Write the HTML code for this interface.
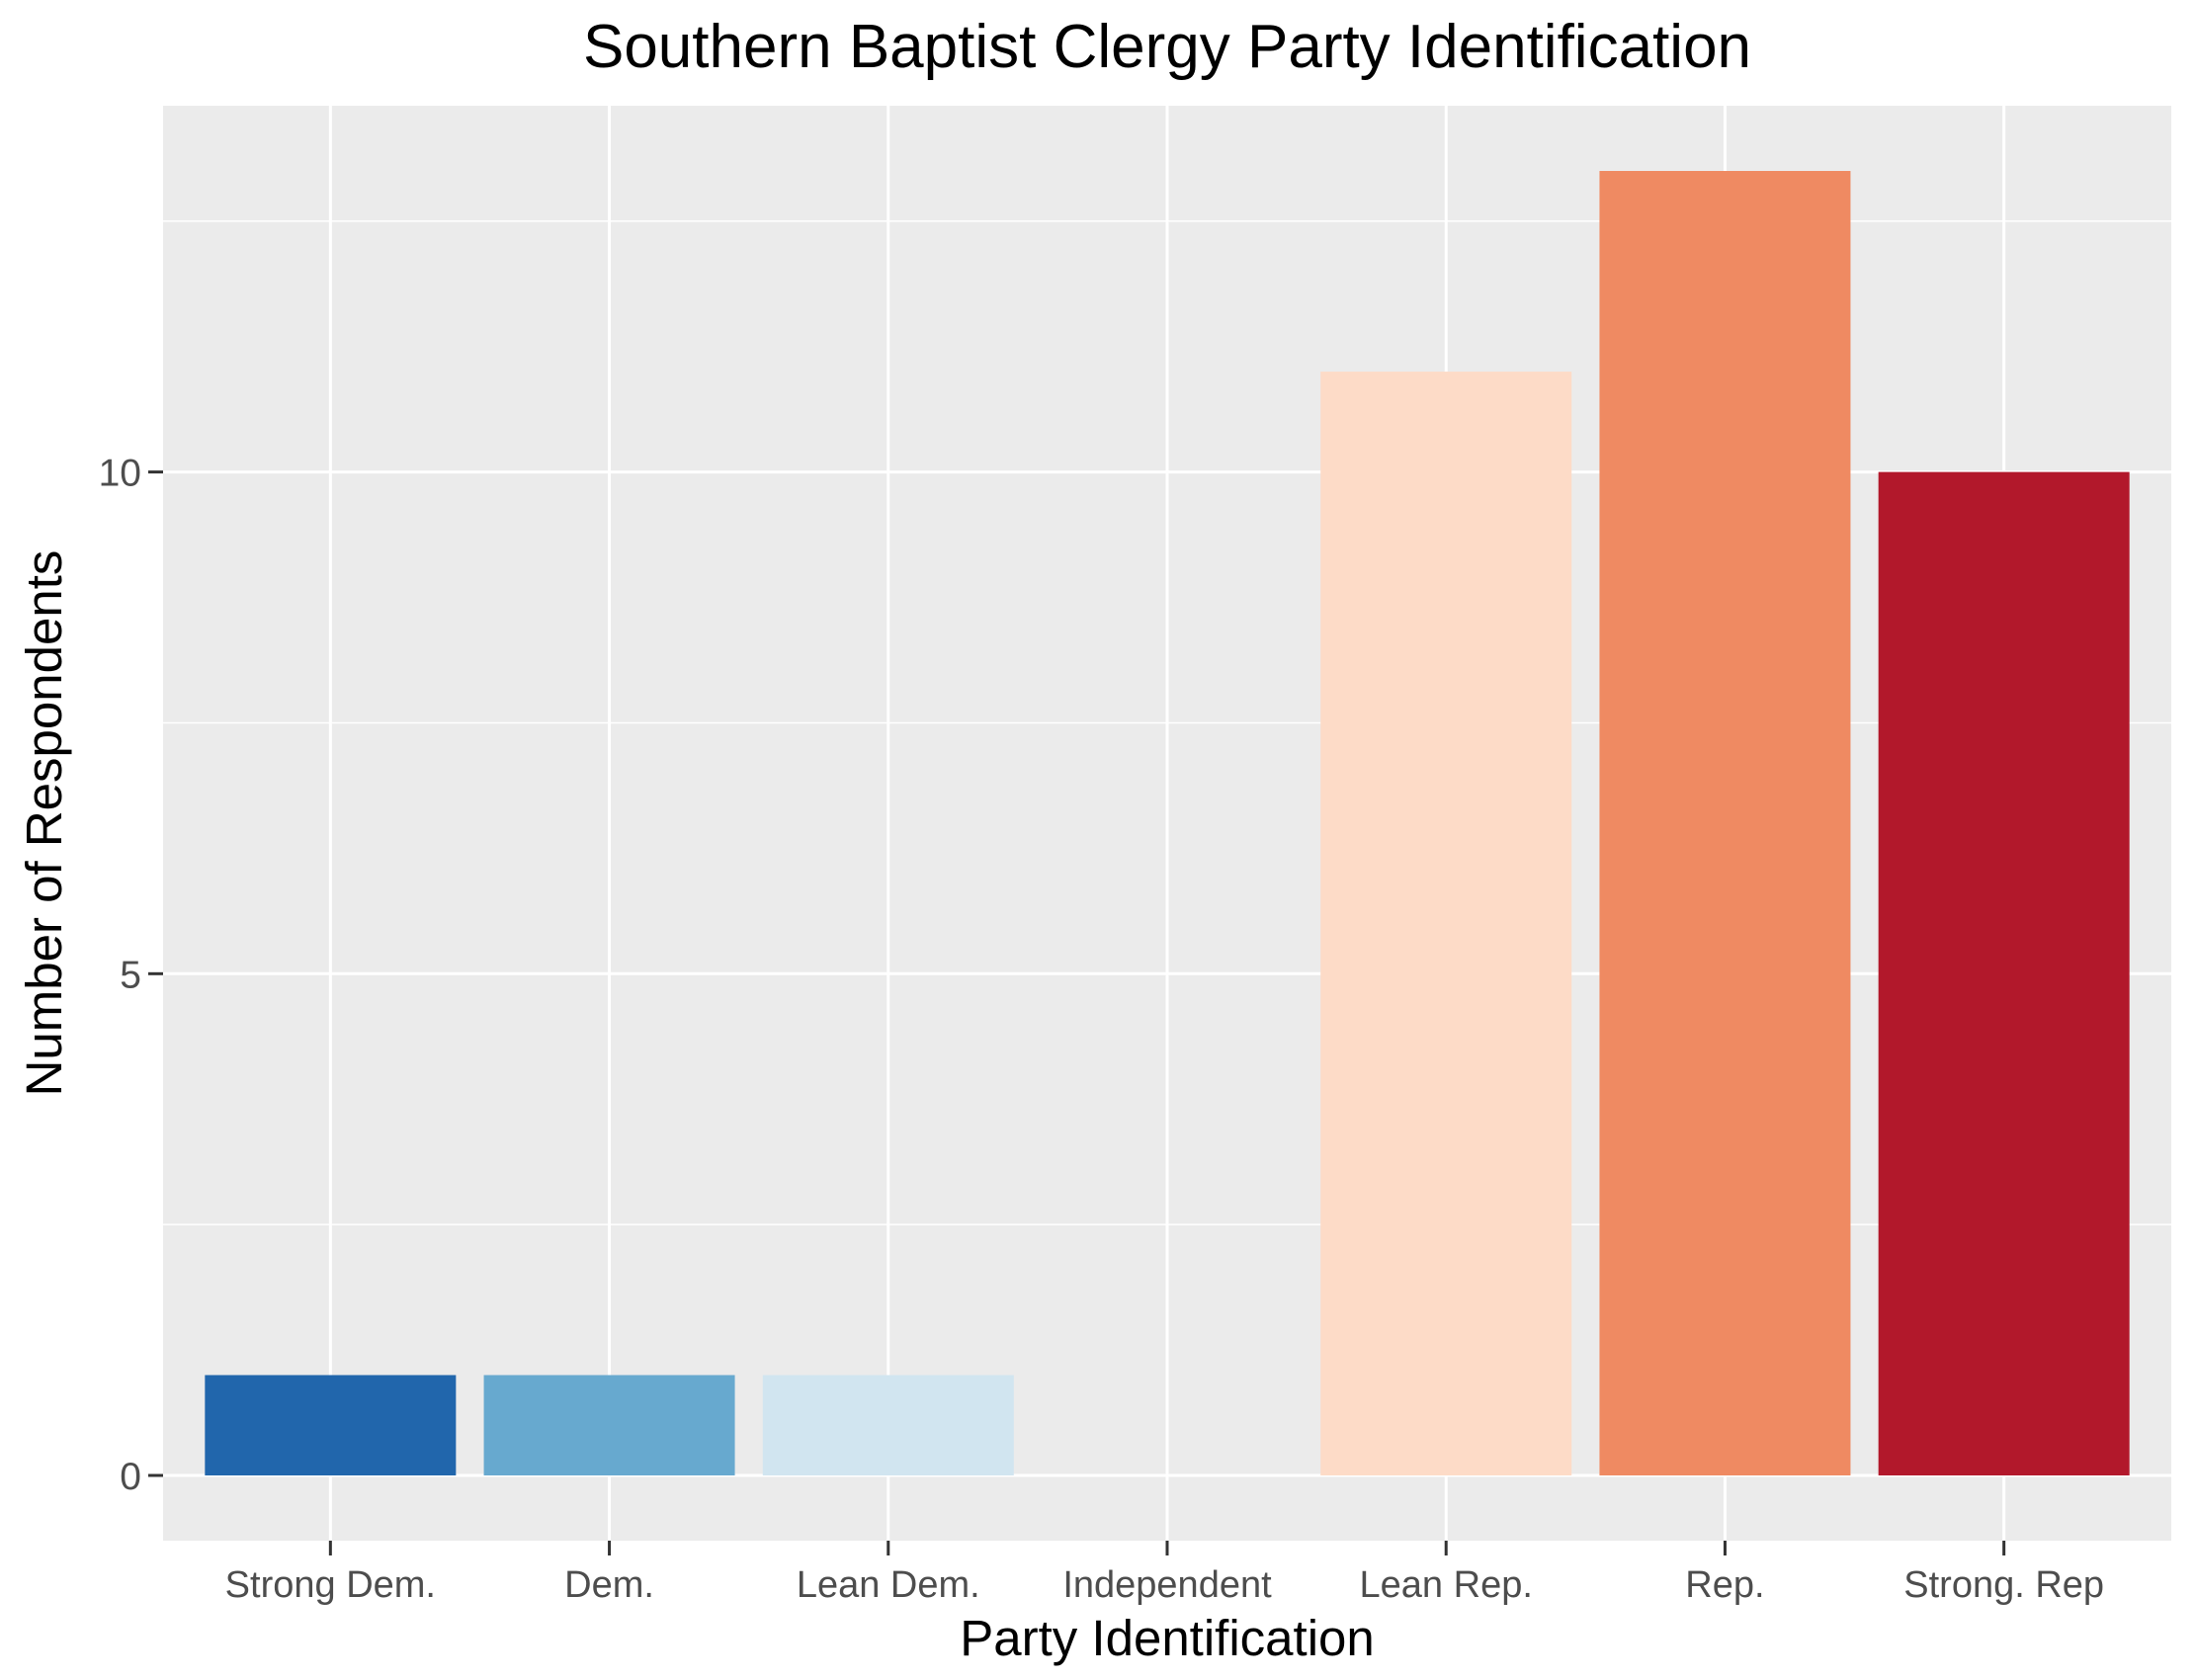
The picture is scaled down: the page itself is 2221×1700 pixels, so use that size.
<!DOCTYPE html>
<html><head><meta charset="utf-8"><style>
html,body{margin:0;padding:0;background:#fff;}
svg{display:block;font-family:"Liberation Sans",sans-serif;}
</style></head><body>
<svg id="chart" width="2221" height="1700" viewBox="0 0 2221 1700">
<rect x="165" y="107" width="2032" height="1452" fill="#ebebeb"/>
<g id="grid"></g><g id="bars"></g><g id="axes"></g>
<text x="1181" y="68" text-anchor="middle" font-size="62" fill="#000">Southern Baptist Clergy Party Identification</text>
<text x="1181" y="1675" text-anchor="middle" font-size="51" fill="#000">Party Identification</text>
<text transform="translate(62,833) rotate(-90)" text-anchor="middle" font-size="51" fill="#000">Number of Respondents</text>
</svg>
<script>
const categories=["Strong Dem.","Dem.","Lean Dem.","Independent","Lean Rep.","Rep.","Strong. Rep"];
const counts=[1,1,1,0,11,13,10];
const colors=["#2166ac","#67a9cf","#d1e5f0","#f7f7f7","#fddbc7","#ef8a62","#b2182b"];
const yTicks=[0,5,10];
const yMinor=[2.5,7.5,12.5];
const NS="http://www.w3.org/2000/svg";
const px0=165,px1=2197,py0=107,py1=1559;
const yMin=-0.65,yMax=13.65;
function y(v){return py1-(v-yMin)/(yMax-yMin)*(py1-py0);}
const step=(px1-px0)/(categories.length+0.2);
function x(i){return px0+step*(0.6+i);}
const bw=step*0.9;
function mk(tag,attrs,parent){const e=document.createElementNS(NS,tag);for(const k in attrs)e.setAttribute(k,attrs[k]);parent.appendChild(e);return e;}
const grid=document.getElementById('grid'),bars=document.getElementById('bars'),axes=document.getElementById('axes');
yMinor.forEach(v=>{const l=mk('line',{x1:px0,x2:px1,y1:y(v),y2:y(v),stroke:'#fff','stroke-width':1.5},grid);

});
yTicks.forEach(v=>{const l=mk('line',{x1:px0,x2:px1,y1:y(v),y2:y(v),stroke:'#fff','stroke-width':3},grid);


const t=mk('line',{x1:px0-15,x2:px0,y1:y(v),y2:y(v),stroke:'#333','stroke-width':3},axes);


const tx=mk('text',{x:px0-22,y:y(v)+14,'text-anchor':'end','font-size':39,fill:'#4d4d4d'},axes);tx.textContent=v;

});
categories.forEach((c,i)=>{const l=mk('line',{x1:x(i),x2:x(i),y1:py0,y2:py1,stroke:'#fff','stroke-width':3},grid);


const h=y(0)-y(counts[i]);
if(counts[i]>0){const r=mk('rect',{x:x(i)-bw/2,y:y(counts[i]),width:bw,height:h,fill:colors[i]},bars);

}
const t=mk('line',{x1:x(i),x2:x(i),y1:py1,y2:py1+15,stroke:'#333','stroke-width':3},axes);


const tx=mk('text',{x:x(i),y:py1+57,'text-anchor':'middle','font-size':38,fill:'#4d4d4d'},axes);tx.textContent=c;

});
</script>
</body></html>
